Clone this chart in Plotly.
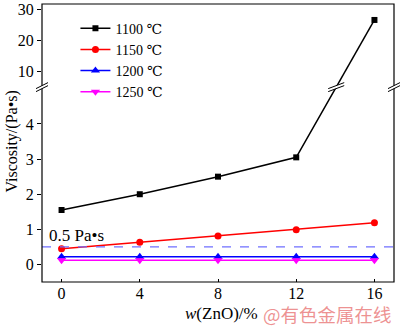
import plotly.graph_objects as go

# ---- data ----
zno = [0, 4, 8, 12, 16]
v1100 = [1.55, 2.0, 2.5, 3.05, 26.5]
v1150 = [0.45, 0.63, 0.81, 0.99, 1.19]
v1200 = [0.22, 0.22, 0.22, 0.22, 0.22]
v1250 = [0.12, 0.12, 0.12, 0.12, 0.12]
series_names = ["1100 ℃", "1150 ℃", "1200 ℃", "1250 ℃"]
ref_value = 0.5
ref_label = "0.5 Pa•s"
x_ticks = [0, 4, 8, 12, 16]
low_ticks = [0, 1, 2, 3, 4]
up_ticks = [10, 20, 30]

# ---- axis layout ----
x_range = [-1, 17]
low_range = [-0.5, 5.05]
up_range = [5.04, 31.6]
d_low = 0.701

FONT = "Times New Roman, Liberation Serif, DejaVu Serif, serif"


def to_paper_low(v):
    return (v - low_range[0]) / (low_range[1] - low_range[0]) * d_low


def to_paper_up(v):
    return d_low + (v - up_range[0]) / (up_range[1] - up_range[0]) * (1 - d_low)


def paper_to_low(f):
    return low_range[0] + f / d_low * (low_range[1] - low_range[0])


def paper_to_up(f):
    return up_range[0] + (f - d_low) / (1 - d_low) * (up_range[1] - up_range[0])


fig = go.Figure()

# 1100 series crossing the break: lower part and upper part
f12 = to_paper_low(v1100[3])
f16 = to_paper_up(v1100[4])
low_part = v1100[:4] + [paper_to_low(f16)]
up_part = [paper_to_up(f12), v1100[4]]

fig.add_trace(go.Scatter(x=zno, y=low_part, mode="lines+markers", name=series_names[0],
                         line=dict(color="black", width=1.5),
                         marker=dict(symbol="square", size=6, color="black"),
                         yaxis="y", legendrank=1))
fig.add_trace(go.Scatter(x=zno[3:], y=up_part, mode="lines+markers", showlegend=False,
                         line=dict(color="black", width=1.5),
                         marker=dict(symbol="square", size=6, color="black"),
                         yaxis="y2"))

styles = [("#ff0000", "circle", 7), ("#0000ff", "triangle-up", 8), ("#ff00ff", "triangle-down", 8)]
for i, (vals, (col, sym, sz)) in enumerate(zip([v1150, v1200, v1250], styles)):
    fig.add_trace(go.Scatter(x=zno, y=vals, mode="lines+markers", name=series_names[i + 1],
                             line=dict(color=col, width=1.5),
                             marker=dict(symbol=sym, size=sz, color=col),
                             yaxis="y", legendrank=i + 2))

shapes = []
# reference dashed line
shapes.append(dict(type="line", xref="paper", x0=0, x1=1, yref="y", y0=ref_value, y1=ref_value,
                   line=dict(color="#6f6fff", width=1.3, dash="dash"), layer="above"))
# frame
shapes.append(dict(type="rect", xref="paper", yref="paper", x0=0, x1=1, y0=0, y1=1,
                   line=dict(color="black", width=1.2), layer="above"))


def break_mark(xref, xanchor, w, h):
    poly = f"M{-w},{-h - 1.5} L{w},{h - 1.5} L{w},{h + 1.5} L{-w},{-h + 1.5} Z"
    lines = f"M{-w},{-h - 1.5} L{w},{h - 1.5} M{-w},{-h + 1.5} L{w},{h + 1.5}"
    common = dict(type="path", xref=xref, xsizemode="pixel", xanchor=xanchor,
                  yref="paper", ysizemode="pixel", yanchor=d_low, layer="above")
    return [dict(path=poly, fillcolor="white", line=dict(width=0), **common),
            dict(path=lines, line=dict(color="black", width=1), **common)]


x_cross = zno[3] + (d_low - f12) / (f16 - f12) * (zno[4] - zno[3])
shapes += break_mark("paper", 0, 6, 3)
shapes += break_mark("paper", 1, 6, 3)
shapes += break_mark("x", x_cross, 8, 3)

axis_font = dict(family=FONT, size=16, color="black")

fig.update_layout(
    width=400, height=327,
    margin=dict(l=42, r=6, t=1, b=45),
    paper_bgcolor="white", plot_bgcolor="white",
    font=dict(family=FONT, color="black"),
    xaxis=dict(range=x_range, tickvals=x_ticks, showgrid=False, zeroline=False,
               ticks="inside", ticklen=3, tickcolor="black", tickfont=axis_font,
               showline=False, anchor="y", ticklabeloverflow="allow"),
    yaxis=dict(domain=[0, d_low], range=low_range, tickvals=low_ticks, showgrid=False,
               zeroline=False, ticks="outside", ticklen=4, tickcolor="black",
               tickfont=axis_font, showline=False, ticklabeloverflow="allow"),
    yaxis2=dict(domain=[d_low, 1], range=up_range, tickvals=up_ticks, showgrid=False,
                zeroline=False, ticks="outside", ticklen=4, tickcolor="black",
                tickfont=axis_font, showline=False, anchor="x", ticklabeloverflow="allow"),
    shapes=shapes,
    legend=dict(x=0.095, y=0.969, xanchor="left", yanchor="top", bgcolor="rgba(0,0,0,0)",
                font=dict(family=FONT, size=14, color="black"), itemwidth=30,
                tracegroupgap=0),
    showlegend=True,
    annotations=[
        dict(text=ref_label, xref="paper", yref="y", x=0.015, y=ref_value, xanchor="left",
             yanchor="bottom", yshift=0, showarrow=False,
             font=dict(family=FONT, size=17, color="black")),
        dict(text="Viscosity/(Pa•s)", xref="paper", yref="paper", x=0, y=0.505,
             xshift=-30, xanchor="center", yanchor="middle", textangle=-90, showarrow=False,
             font=dict(family=FONT, size=16, color="black")),
        dict(text="<i>w</i>(ZnO)/%", xref="paper", yref="paper", x=0.51, y=0, yshift=-31,
             xanchor="center", yanchor="middle",
             showarrow=False, font=dict(family=FONT, size=17, color="black")),
        dict(text="@有色金属在线", xref="paper", yref="paper", x=0.81, y=0, yshift=-32,
             xanchor="center", yanchor="middle", showarrow=False,
             font=dict(family="Noto Sans CJK SC", size=18.5, color="rgba(232,110,110,0.75)")),
    ],
)

fig.write_html("out.html")
